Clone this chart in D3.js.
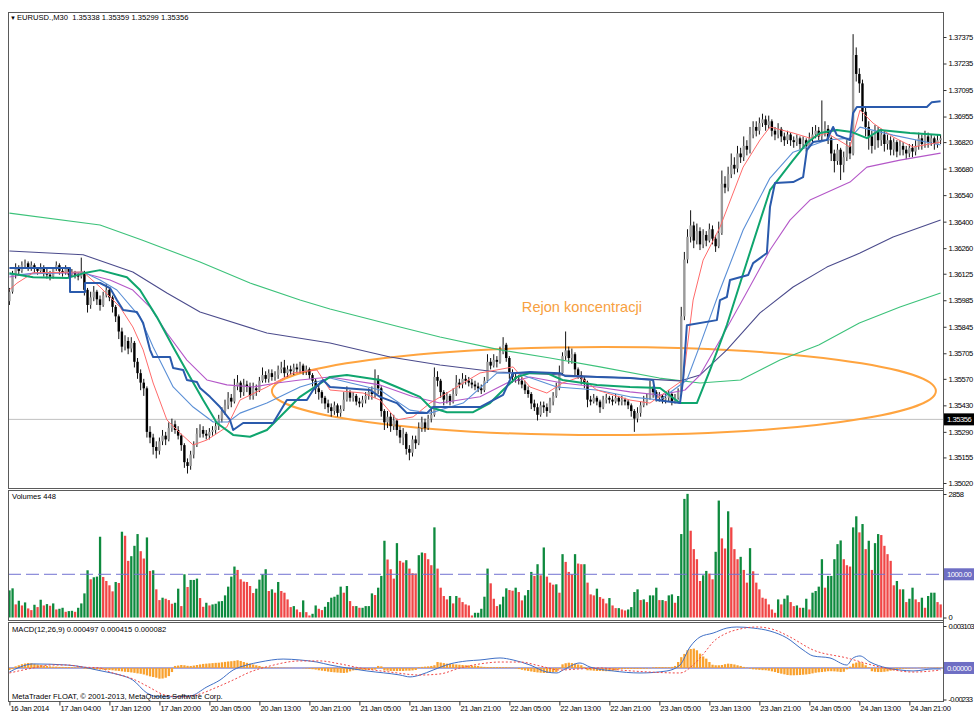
<!DOCTYPE html>
<html>
<head>
<meta charset="utf-8">
<script src="https://cdn.jsdelivr.net/npm/d3@7"></script>
<style>
  body { margin: 0; background: #fff; }
  text { font-family: "Liberation Sans", Arial, sans-serif; }
</style>
</head>
<body>
<svg id="chart" width="974" height="712"></svg>
<script>
// prices are stored as pips above 1.3500
const BASE = 1.35
const FIRST_OPEN = 98

const closes = [
  103,112,115,114,117,118,116,117,115,114, 116,113,112,111,115,117,114,113,115,112,
  113,112,111,113,104,96,100,103,99,96, 101,104,100,95,90,82,74,77,73,76,
  66,60,55,52,29,26,21,19,24,27, 25,31,33,30,27,22,13,11,17,22,
  28,30,28,27,29,30,32,36,40,43, 47,45,53,55,50,54,53,48,52,51,
  56,59,57,60,58,59,62,63,60,62, 61,63,62,64,61,62,59,56,52,50,
  47,44,42,40,43,39,41,46,50,47, 48,45,44,46,48,50,49,57,52,40,
  34,37,32,35,30,26,28,20,18,25, 23,31,34,31,36,38,58,56,50,46,
  48,45,49,55,54,57,56,55,54,53, 52,51,56,66,64,67,66,71,75,68,
  60,58,57,56,54,51,49,44,42,38, 43,42,40,45,48,52,60,69,72,68,
  70,62,59,57,55,46,45,47,45,42, 46,47,46,45,47,45,46,45,43,40,
  36,39,43,45,47,52,50,47,48,46, 47,49,45,47,50,90,120,132,138,130,
  135,128,133,130,136,131,127,134,160,158, 165,170,168,176,174,180,178,186,190,188,
  192,194,191,193,188,186,189,185,183,186, 183,182,184,181,183,180,184,186,188,185,
  187,189,184,176,172,178,170,174,180,176, 228,218,213,198,190,185,180,188,183,186,
  181,183,178,182,177,180,178,176,179,177, 180,184,181,185,182,184,181,183,184
]
const highs = [
  105,114,118,117,119,120,119,119,118,116, 118,117,115,114,116,119,118,116,117,116,
  115,114,113,121,114,105,103,106,104,101, 103,107,105,101,96,91,84,80,79,79,
  77,68,62,57,53,32,28,24,26,30, 29,34,36,35,32,28,23,15,19,24,
  31,33,32,30,31,32,34,38,42,46, 50,49,57,59,56,57,56,55,55,54,
  58,63,61,62,62,61,64,66,67,64, 64,65,65,66,65,64,63,60,57,54,
  51,48,46,44,45,44,43,50,53,51, 50,49,47,48,50,52,53,62,59,53,
  41,40,39,38,36,32,31,29,22,27, 27,34,37,36,38,41,63,61,57,51,
  50,49,52,59,57,60,59,58,57,56, 55,54,58,70,68,70,69,74,79,76,
  69,62,60,59,58,56,53,50,46,44, 45,45,44,47,50,55,64,71,82,74,
  73,71,63,61,58,56,48,49,48,46, 48,49,48,48,49,48,48,47,46,44,
  41,42,45,48,49,56,53,51,50,49, 49,51,50,49,52,95,124,136,146,140,
  139,137,136,135,139,138,133,140,167,164, 169,176,174,180,179,185,183,190,193,193,
  195,197,196,196,194,190,192,190,187,188, 187,185,186,185,185,184,187,190,191,190,
  204,193,191,185,178,181,179,177,183,182, 239,232,221,215,200,193,188,191,190,189,
  188,186,185,184,183,183,182,180,181,181, 183,187,186,188,187,186,185,186,186
]
const lows = [
  96,102,110,112,113,115,114,114,113,112, 113,111,110,109,110,114,112,111,112,110,
  111,110,109,110,101,92,94,98,96,93, 95,100,98,92,87,78,71,72,70,71,
  63,57,51,48,26,23,17,15,17,22, 22,24,29,28,25,19,10,7,9,15,
  21,26,26,25,25,27,28,30,34,38, 41,42,44,51,47,48,50,46,46,48,
  50,55,55,55,56,56,57,60,58,58, 59,59,60,60,59,59,57,53,49,46,
  44,41,39,37,38,37,37,40,45,45, 45,43,42,42,44,46,46,47,49,37,
  30,31,29,30,27,23,22,17,14,16, 20,22,29,29,30,34,37,53,47,43,
  44,43,44,48,52,52,54,53,52,51, 50,49,50,55,62,63,63,65,70,66,
  57,55,55,54,52,49,47,41,40,35, 37,39,37,39,43,47,51,59,67,65,
  65,59,57,54,52,42,43,44,43,39, 41,44,44,43,44,43,43,43,41,37,
  29,34,37,42,43,46,47,45,45,44, 44,45,43,44,46,48,88,118,129,126,
  128,125,126,127,129,128,124,126,133,155, 156,163,165,166,171,172,175,176,184,185,
  186,190,188,189,185,183,184,182,180,181, 180,179,180,178,179,177,179,182,184,183,
  183,185,181,172,166,170,162,166,172,173, 175,214,208,193,185,178,176,178,179,180,
  177,178,175,175,174,175,175,173,174,174, 175,178,178,179,179,180,178,179,181
]

const volumes = [
  628,675,303,388,279,349,210,171,295,241, 411,279,310,272,326,186,202,225,132,148,
  155,132,225,326,558,1093,884,931,946,1869, 938,845,745,605,822,799,1985,1892,1311,1419,
  1659,1931,1535,1365,1853,1078,1093,652,403,458, 434,403,318,341,667,264,1000,706,869,869,
  900,450,248,341,279,303,318,372,380,512, 714,946,1179,1101,884,830,822,729,566,667,
  876,1000,1117,613,652,574,822,613,574,419, 241,264,186,124,396,124,47,86,279,202,
  171,248,357,458,481,527,714,574,729,380, 264,264,225,225,264,264,558,520,690,962,
  1776,1342,1117,900,1721,1311,1272,1326,1132,1024, 1016,1442,1504,1489,1349,1210,2086,1132,690,497,
  419,497,326,497,458,357,303,279,47,109, 109,
  202,481,1132,791,434,264,303,481,675,636, 620,690,589,396,512,636,1055,962,1233,977,
  1621,946,807,760,768,574,1466,1287,1055,1000, 1466,1248,1233,1233,807,535,512,667,473,434,
  326,450,279,217,217,186,163,186,241,589, 652,403,419,357,512,512,690,403,403,380,
  512,535,341,497,1931,2745,2861,2008,1582,1349, 845,977,1078,1016,884,1520,2706,1830,1597,2458,
  2086,1582,1349,1404,1101,807,1605,1070,807,652, 458,434,303,186,109,419,303,434,512,357,
  264,279,225,225,434,186,574,613,714,1349, 690,962,962,1349,1698,1783,1349,1210,1179,2086,
  2342,1970,2163,1582,1776,1101,1721,1931,1908,1659, 1466,1311,745,845,652,652,357,434,690,419,
  357,458,225,497,574,574,357,303
]

// MACD values in units of 0.00001
const macdHist = [
  -15,-8, 12,20,28,33,37,35,30,26,22,18,15, 12,10,10,8,8,7,7,6,5,4,3,
  -5,-7,-8,-10,-10,-12,-12,-14,-15,-17,-20,
  -22,-25,-28,-30,-33,-36,-40,-43,-48,-55,-62,-67,-72,-79,-78,-72,-60,-30,
  15,18,22,20,16,
  15,18,22,26,30,32,34,36,38,39,42,45,48,50,53,57,52,44,38,32,26,20,15,
  8,6,5,5,4,4,3,3,2,2,1, 0,0,-2,-4,-6,-9,-12,
  -17,-20,-23,-27,-30,-32,-34,-36,-37,-34,-25, -18,-16,-15,-14,-15,-15,-14,-12, 15,12,
  -18,-20,-22,-22,-23,-22,-22,-20,-20,-18,-15, 5,8,10,12,15,20,
  44,40,36,32,30,28,26,24,22,20,19,18,17,15, 10,8,7,7,6,7,7,6,6,5,3,-3,-8,
  -13,-18,-22,-26,-30,-33,-35,-37,-37,-35,-32,-30,-10, 27,35,39,36,32,26,20,8,
  -17,-18,-20,-22,-22,-23,-24,-24,-22,-18, -10,-8,-7,-7,-7,-7,-7,-7,-6,-5,-3,
  5,7,7,7,6,6,8,15, 44,80,104,131,140,143,131,106,85,69,44,24,20,
  20,22,28,32,30,26,20,15,8,3,-5,
  -10,-12,-14,-16,-17,-20,-25,-30,-37,-42,-47,-52,-54,-54,-53,-52,-50,-48,-45,-40,-35,-32,-30,-27,-24,-24,-25,-27,-30,-28,-10,10,
  32,40,44,35,20,5, -24,-28,-30,-30,-28,-25,-20,-17,
  -12,-8,-6,-5,-4,-3,-2,2,3,4,3,2,3,4,4
]
const macdMain = [
  [0,-30],[3.4,7],[7.6,30],[18.4,22],[23.6,7],[28,-15],[31.2,-30],[35.4,-52],[39.5,-89],[44,-185],
  [48.2,-214],[57.8,-207],[63.2,-140],[67.4,-89],[71.6,-15],[76,22],[80.2,44],[87.6,66],[93,59],[98.4,44],
  [102.6,22],[108,0],[114.4,-22],[125,-52],[128.2,-66],[131.4,-52],[135.6,-15],[141,30],[146.4,52],[150.6,59],
  [157,74],[161.2,59],[166.6,22],[172,-30],[175.2,-37],[177.2,-15],[182.6,37],[185.8,7],[193.2,-22],[201.8,-37],
  [210.4,-22],[214.6,22],[217.8,155],[221,229],[225.2,258],[229.6,295],[232.8,303],[238,295],[243.4,273],[248.8,222],
  [254,133],[257.2,89],[262.6,74],[268,22],[270,74],[272.2,89],[275.4,44],[280.8,0],[285,-15],[289.2,-22],
  [295.6,-7],[298,-7]
]
const macdSignal = [
  [0,-37],[7.6,0],[13,22],[18.4,22],[23.6,7],[29,0],[32.2,-30],[39.5,-81],[44,-133],[49.8,-200],
  [54.6,-214],[61,-192],[65.8,-148],[71.6,-89],[77,-30],[83.4,15],[93,52],[99.4,52],[105.8,30],[112.2,0],
  [121.8,-30],[131.4,-52],[137.8,-44],[144.2,0],[150.6,30],[157,44],[163.4,44],[169.8,15],[176.2,-15],[182.6,-7],
  [189,0],[195.4,-15],[205,-30],[214.6,-37],[218.8,22],[222.6,118],[225.2,192],[229.6,258],[233.8,288],[239.2,303],
  [245,281],[249.8,229],[257.2,133],[268,74],[278.6,7],[289.2,-30],[298,-15]
]

// moving averages: [bar, pips]
const maGreen = [
  [0,144.5],[29,138.2],[42.4,130.3],[61,118.7],[77,107.6],[93,98.6],[102.6,93.9],[125,84.4],[137.8,79.1],[157,72.3],
  [173,68],[189,63.3],[208,57.4],[221,54.8],[234,56.4],[246.6,66.9],[259,74.9],[272,86.5],[285,94.9],[298,102.3]
]
const maNavy = [
  [0,124.5],[23.6,122.5],[39.5,113.4],[50.4,102.3],[61,92.3],[82.4,81.2],[102.6,75.9],[121.8,68.5],[137.8,64.3],[156,60.6],
  [177,59],[198.6,57.4],[214.6,55.9],[221,59],[229.6,72.3],[240.2,91.8],[250.8,105.5],[261.6,116],[272.2,123.4],[282.8,131.9],[298,140.9]
]
const maPurple = [
  [0,110.8],[7.6,112.9],[23.6,112.9],[32.2,109.2],[39.5,103.9],[45,94.9],[50.4,81.2],[56.8,66.9],[63.2,56.4],[69.6,53.8],
  [78,52.7],[85.6,54.8],[93,56.4],[102.6,58],[118.6,53.8],[129.2,47.5],[137.8,44.2],[150.6,47.5],[159.2,54.8],[166.6,58],
  [177,54.8],[188,52.7],[198.6,50.1],[208.2,48.5],[216.2,51.1],[221,59],[227.4,77.4],[235.4,101],[243.4,125],[249.8,140.8],
  [256.2,151.4],[269,160.9],[274.4,168.8],[285,172.5],[298,176.2]
]
const maLightBlue = [
  [0,112],[23.6,113.4],[29,109.2],[34.4,103.9],[41.8,89.6],[46,73.8],[52.4,52.7],[58.8,42.1],[65.2,34.2],[70,34.2],
  [73.8,38.9],[82.4,44.2],[93,52.7],[102.6,57.4],[118.6,51.1],[128.2,40.5],[134.6,38.9],[145.2,44.2],[156,60],[162.4,60],
  [168.8,56.4],[175.2,52.7],[188,51.1],[198.6,47.5],[208.2,45.8],[216.8,56.4],[221,74.8],[227.4,103.9],[234.8,135.6],[243.4,163],
  [250.8,176.7],[261.6,183.1],[269,184.1],[272.2,189.9],[282.8,185.7],[298,180.5]
]
const maRed = [
  [0,104],[2.4,107.5],[7.6,113],[23.6,113.4],[29,105.5],[35.4,94.9],[39.5,84.4],[42.8,72.3],[46,54.8],[50.4,35.3],
  [54.6,28.4],[58.8,22.1],[63.2,24.7],[69.6,31.6],[73.8,45.8],[82.4,52.7],[90.8,60.1],[98.4,61.7],[102.6,51.1],[113.2,49.5],
  [118.6,45.8],[124,35.3],[129.2,36.9],[134.6,44.2],[140,49.5],[145.2,54.8],[150.6,60.1],[156,61.7],[161.2,63.3],[166.6,52.7],
  [172,49.5],[177,54.8],[182.6,58],[188,51.1],[198.6,45.8],[205,44.2],[215.6,56.4],[218.8,98.6],[222,119.7],[227.4,137.1],
  [234.8,168.8],[240.2,183.1],[243.4,190],[250.8,186.8],[256.2,184.1],[261.6,186.8],[269,179.4],[272.2,198.9],[276.4,192],[282.8,184.7],
  [289.2,179.4],[298,182]
]
const maTeal = [
  [0,112.7],[7.6,110.6],[18.4,110.2],[23.6,112.7],[29,114.4],[37.6,110.6],[41.8,103.9],[47.2,89.6],[52.4,73.8],[57.8,58],
  [62,45.8],[66.4,33.7],[71.6,27.4],[77,26.4],[82.4,30],[85.6,35.3],[93,47.5],[102.6,58],[108,59],[118.6,56.4],
  [124,52.7],[131.4,47.5],[134.6,42.1],[140,39.4],[148.4,39.4],[153.8,44.2],[158,51.1],[162.4,58],[166.6,60],[172,60],
  [177,56.4],[188,53.8],[198.6,52.7],[208.2,52.2],[214.6,44.2],[220,44.2],[224.2,61.6],[229.6,85.4],[236,118.7],[243.4,156.6],
  [250.8,172.5],[255.2,181.5],[259.4,186.8],[264.8,188.4],[269.6,187.3],[274.4,184.1],[278.6,188.4],[288.2,186.8],[298,185.7]
]
const maBlue = [
  [0,115.5],[19.4,115.5],[19.4,102.8],[24.2,102.8],[24.2,107.6],[29,107.6],[32.2,104.9],[34.4,98.6],[36.4,93.3],[40.8,92.3],
  [42.8,86.5],[45,72.3],[46,68.5],[51.4,68.5],[52.4,62.7],[55.6,61.7],[56.8,56.4],[60,55.3],[61,52.2],[64.2,47.5],
  [67.4,42.1],[70.6,35.3],[71.6,30],[74.8,33.7],[84.4,33.7],[88.8,45.8],[95.2,45.8],[97.2,51.1],[100.4,56.4],[102.6,52.7],
  [115.4,51.1],[118.6,47.5],[124,44.2],[127.2,38.9],[133.6,38.9],[135.6,42.1],[150.6,42.1],[158,48.5],[161.2,60],[166.6,60.6],
  [176.2,60],[177.8,58.5],[198.6,57.4],[206,56.4],[207,45.8],[214.6,44.2],[215.6,56.4],[216.8,85.3],[226.4,88],[227.4,98.6],
  [229.6,100.2],[230.6,109.2],[236.4,111.8],[238,118.1],[242.4,123.4],[243.4,147.7],[245,160.4],[250.8,160.9],[254,163.5],[255.2,177.8],
  [257.2,182],[261.6,183.1],[263.6,190],[264.8,185.7],[269,183.1],[270,197.4],[271.2,200.5],[293.6,200.5],[295.2,203.1],[298,203.6]
]

const priceTicks = ["1.37375","1.37235","1.37095","1.36955","1.36820","1.36680","1.36540","1.36400","1.36260",
  "1.36125","1.35985","1.35845","1.35705","1.35570","1.35430","1.35290","1.35155","1.35020"]
const volumeTicks = ["2858", "0"]
const macdTicks = ["0.003103", "-0.00233"]
const timeLabels = ["16 Jan 2014","17 Jan 04:00","17 Jan 12:00","17 Jan 20:00","20 Jan 05:00","20 Jan 13:00",
  "20 Jan 21:00","21 Jan 05:00","21 Jan 13:00","21 Jan 21:00","22 Jan 05:00","22 Jan 13:00","22 Jan 21:00",
  "23 Jan 05:00","23 Jan 13:00","23 Jan 21:00","24 Jan 05:00","24 Jan 13:00","24 Jan 21:00"]
const lastPrice = "1.35356"
const volumeLevel = 1000
// zone: first bar, last bar, low pips, high pips
const zone = [84, 296.5, 27.3, 73.8]
const zoneLabel = ["Rejon koncentracji", 164, 92.5]
const title = "EURUSD.,M30  1.35338 1.35359 1.35299 1.35356"
const volTitle = "Volumes 448"
const macdTitle = "MACD(12,26,9) 0.000497 0.000415 0.000082"
const copyright = "MetaTrader FLOAT, \u00a9 2001-2013, MetaQuotes Software Corp."

const left = 8, right = 943
const panes = { price: [12, 488], volume: [490, 620], macd: [622, 701] }

const svg = d3.select("#chart")
const px = p => BASE + p / 10000

const x = d3.scaleLinear().domain([0, closes.length - 1]).range([9.4, 940.6])
const yP = d3.scaleLinear().domain([1.3502, 1.37375]).range([483, 37])
const yV = d3.scaleLinear().domain([0, 2858]).range([617.5, 494])
const yM = d3.scaleLinear().domain([-0.00233, 0.003103]).range([699.5, 626])

// clip paths per pane
const defs = svg.append("defs")
Object.entries(panes).forEach(([k, [t, b]]) => {
  defs.append("clipPath").attr("id", "clip-" + k)
    .append("rect").attr("x", left + 1).attr("y", t + 1).attr("width", right - left - 1).attr("height", b - t - 1)
})

// pane frames
Object.values(panes).forEach(([t, b]) => {
  svg.append("rect").attr("x", left + 0.5).attr("y", t + 0.5)
    .attr("width", right - left).attr("height", b - t)
    .attr("fill", "none").attr("stroke", "#5a5a5a").attr("stroke-width", 1)
})

// ---------- price pane ----------
const gP = svg.append("g").attr("clip-path", "url(#clip-price)")

// last price line
gP.append("line").attr("x1", left).attr("x2", right)
  .attr("y1", yP(+lastPrice)).attr("y2", yP(+lastPrice))
  .attr("stroke", "#c0c0c0").attr("stroke-width", 1)

const maLine = d3.line().x(d => x(d[0])).y(d => yP(px(d[1])))
const maStyles = [
  [maGreen, "#3cc27a", 1.1],
  [maNavy, "#4b4b8c", 1.1],
  [maPurple, "#b457c8", 1.1],
  [maLightBlue, "#5a8fd6", 1.1],
  [maRed, "#ff6b6b", 1],
  [maTeal, "#0fa56e", 2],
  [maBlue, "#2a5aac", 2]
]

// ellipse zone
gP.append("ellipse")
  .attr("cx", (x(zone[0]) + x(zone[1])) / 2)
  .attr("cy", (yP(px(zone[2])) + yP(px(zone[3]))) / 2)
  .attr("rx", (x(zone[1]) - x(zone[0])) / 2)
  .attr("ry", (yP(px(zone[2])) - yP(px(zone[3]))) / 2)
  .attr("fill", "none").attr("stroke", "#ffa43f").attr("stroke-width", 2)

// candles
const candles = gP.selectAll("g.candle")
  .data(closes.map((c, i) => ({ i, o: i ? closes[i - 1] : FIRST_OPEN, h: highs[i], l: lows[i], c })))
  .join("g").attr("class", "candle")
candles.append("line")
  .attr("x1", d => x(d.i)).attr("x2", d => x(d.i))
  .attr("y1", d => yP(px(d.h))).attr("y2", d => yP(px(d.l)))
  .attr("stroke", "#111").attr("stroke-width", 1)
candles.append("rect")
  .attr("x", d => x(d.i) - 1.2).attr("width", 2.4)
  .attr("y", d => yP(px(Math.max(d.o, d.c))))
  .attr("height", d => Math.max(1, Math.abs(yP(px(d.o)) - yP(px(d.c)))))
  .attr("fill", d => d.c >= d.o ? "#9a9a9a" : "#000")

maStyles.forEach(([data, color, w]) => {
  gP.append("path").datum(data).attr("d", maLine)
    .attr("fill", "none").attr("stroke", color).attr("stroke-width", w)
    .attr("stroke-linejoin", "round")
})

svg.append("text").text(zoneLabel[0])
  .attr("x", x(zoneLabel[1])).attr("y", yP(px(zoneLabel[2])))
  .attr("font-size", 14.6).attr("fill", "#f7a041")

svg.append("text").text("\u25bc").attr("x", 10).attr("y", 20).attr("font-size", 6).attr("fill", "#000")
svg.append("text").text(title).attr("x", 17).attr("y", 20).attr("font-size", 7.6).attr("fill", "#000")
  .style("white-space", "pre").attr("xml:space", "preserve")

// ---------- volume pane ----------
const gV = svg.append("g").attr("clip-path", "url(#clip-volume)")
gV.selectAll("rect.vol").data(volumes).join("rect").attr("class", "vol")
  .attr("x", (d, i) => x(i) - 1.1).attr("width", 2.3)
  .attr("y", d => yV(d)).attr("height", d => yV(0) - yV(d))
  .attr("fill", (d, i) => i > 0 && d < volumes[i - 1] ? "#f04646" : "#0e8a3e")
gV.append("line").attr("x1", left).attr("x2", right)
  .attr("y1", yV(volumeLevel)).attr("y2", yV(volumeLevel))
  .attr("stroke", "#7272d2").attr("stroke-width", 1).attr("stroke-dasharray", "13,5")
svg.append("text").text(volTitle).attr("x", 12).attr("y", 499).attr("font-size", 7.6)

// ---------- MACD pane ----------
const gM = svg.append("g").attr("clip-path", "url(#clip-macd)")
gM.append("line").attr("x1", left).attr("x2", right)
  .attr("y1", yM(0)).attr("y2", yM(0))
  .attr("stroke", "#a9a9dc").attr("stroke-width", 2)
gM.selectAll("rect.hist").data(macdHist).join("rect").attr("class", "hist")
  .attr("x", (d, i) => x(i) - 1.1).attr("width", 2.3)
  .attr("y", d => yM(Math.max(0, d / 1e5)))
  .attr("height", d => Math.abs(yM(0) - yM(d / 1e5)))
  .attr("fill", "#f9a12e")
const mLine = d3.line().x(d => x(d[0])).y(d => yM(d[1] / 1e5)).curve(d3.curveMonotoneX)
gM.append("path").datum(macdMain).attr("d", mLine)
  .attr("fill", "none").attr("stroke", "#3f6fc6").attr("stroke-width", 1)
gM.append("path").datum(macdSignal).attr("d", mLine)
  .attr("fill", "none").attr("stroke", "#f04848").attr("stroke-width", 1).attr("stroke-dasharray", "2,2")
svg.append("text").text(macdTitle).attr("x", 12).attr("y", 632).attr("font-size", 7.6)
svg.append("text").text(copyright).attr("x", 12).attr("y", 699).attr("font-size", 7.6)

// ---------- axes ----------
svg.append("line").attr("x1", right + 0.5).attr("x2", right + 0.5).attr("y1", 12).attr("y2", 701)
  .attr("stroke", "#5a5a5a")

function rightAxis(scale, labels, spacing) {
  const ax = svg.append("g").attr("transform", `translate(${right + 0.5},0)`)
    .call(d3.axisRight(scale).tickValues(labels.map(Number)).tickFormat((d, k) => labels[k]).tickSize(3).tickPadding(2))
  ax.select(".domain").remove()
  ax.selectAll("text").attr("font-size", 7.6).attr("letter-spacing", spacing)
    .attr("font-family", "Liberation Sans, Arial, sans-serif")
  ax.selectAll("line").attr("stroke", "#333")
  return ax
}
rightAxis(yP, priceTicks, -0.45)
rightAxis(yV, volumeTicks, -0.45)
rightAxis(yM, macdTicks, -0.8)

function badge(yPos, label, bg) {
  svg.append("rect").attr("x", right + 1).attr("y", yPos - 6).attr("width", 974 - right).attr("height", 12).attr("fill", bg)
  svg.append("text").text(label).attr("x", right + 4).attr("y", yPos + 2.8)
    .attr("font-size", 7.6).attr("letter-spacing", -0.45).attr("fill", "#fff")
}
badge(yP(+lastPrice), lastPrice, "#000")
badge(yV(volumeLevel), "1000.00", "#6e6ec4")
badge(yM(0), "0.00000", "#6e6ec4")

const tAx = svg.append("g").attr("transform", `translate(0,${panes.macd[1] + 0.5})`)
  .call(d3.axisBottom(x).tickValues(timeLabels.map((_, k) => k * 16)).tickFormat((d, k) => timeLabels[k]).tickSize(4))
tAx.select(".domain").remove()
tAx.selectAll("line").attr("stroke", "#333")
tAx.selectAll("text").attr("text-anchor", "start").attr("x", 0.5).attr("y", 4).attr("font-size", 7.6)
  .attr("letter-spacing", -0.3).attr("font-family", "Liberation Sans, Arial, sans-serif")
</script>
</body>
</html>
